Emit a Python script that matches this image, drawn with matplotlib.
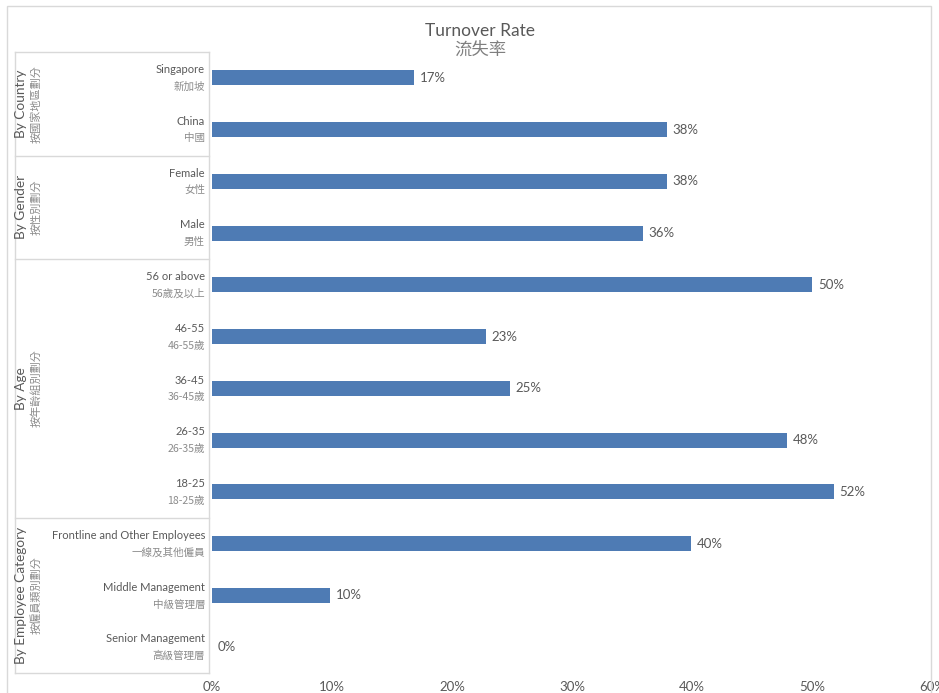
import matplotlib.pyplot as plt
import matplotlib.transforms as mtransforms
from matplotlib.patches import Rectangle
from matplotlib.lines import Line2D
import numpy as np

# data
labels_en = ['Singapore', 'China', 'Female', 'Male', '56 or above', '46-55', '36-45',
             '26-35', '18-25', 'Frontline and Other Employees', 'Middle Management',
             'Senior Management']
labels_zh = ['新加坡', '中國', '女性', '男性', '56歲及以上', '46-55歲', '36-45歲',
             '26-35歲', '18-25歲', '一線及其他僱員', '中級管理層', '高級管理層']
rates = [0.168, 0.379, 0.379, 0.359, 0.50, 0.228, 0.248, 0.479, 0.518, 0.399, 0.098, 0.0]
value_text = ['17%', '38%', '38%', '36%', '50%', '23%', '25%', '48%', '52%', '40%', '10%', '0%']
groups_en = ['By Country', 'By Gender', 'By Age', 'By Employee Category']
groups_zh = ['按國家地區劃分', '按性別劃分', '按年齡組別劃分', '按僱員類別劃分']
group_sizes = [2, 2, 5, 3]

FONTS = ['Lato', 'Noto Sans CJK TC', 'DejaVu Sans']
ZH = ['Noto Sans CJK TC', 'DejaVu Sans']
plt.rcParams['font.family'] = FONTS
TXT = '#595959'
ZTXT = '#8c8c8c'
LINE = '#d9d9d9'
BAR = '#4e7bb4'

W, H = 939, 693
fig = plt.figure(figsize=(W / 100, H / 100), dpi=100)
ax = fig.add_axes([212 / W, (H - 673) / H, (932 - 212) / W, (673 - 52) / H])

y = np.arange(len(rates))
ax.barh(y, rates, height=0.29, color=BAR)
ax.set_ylim(len(rates) - 0.5, -0.5)
ax.set_xlim(0, 0.6)
ax.set_xticks(np.arange(0, 0.61, 0.1))
ax.set_xticklabels(['%d%%' % round(v * 100) for v in np.arange(0, 0.61, 0.1)])
ax.tick_params(axis='x', length=0, pad=6, labelsize=9.5, labelcolor=TXT)
ax.set_yticks([])
for s in ax.spines.values():
    s.set_visible(False)

# value labels
off = mtransforms.offset_copy(ax.transData, fig=fig, x=6, y=0, units='dots')
for yi, r, t in zip(y, rates, value_text):
    ax.text(r, yi, t, transform=off, ha='left', va='center', fontsize=9.5, color=TXT)

# category labels
ytr = ax.get_yaxis_transform()
for yi, e, z in zip(y, labels_en, labels_zh):
    ax.text(-7 / 720, yi - 0.16, e, transform=ytr, ha='right', va='center',
            fontsize=8, color=TXT, clip_on=False)
    ax.text(-7 / 720, yi + 0.17, z, transform=ytr, ha='right', va='center',
            fontsize=7.6, color=ZTXT, family=ZH, clip_on=False)

# group boxes
btr = mtransforms.blended_transform_factory(fig.transFigure, ax.transData)
bounds = np.concatenate([[0], np.cumsum(group_sizes)]) - 0.5
x0, x1 = 15 / W, 209 / W
for b in bounds:
    fig.add_artist(Line2D([x0, x1], [b, b], transform=btr, color=LINE, lw=1))
fig.add_artist(Line2D([x0, x0], [bounds[0], bounds[-1]], transform=btr, color=LINE, lw=1))
fig.add_artist(Line2D([x1, x1], [bounds[0], bounds[-1]], transform=btr, color=LINE, lw=1))
for i in range(len(group_sizes)):
    mid = (bounds[i] + bounds[i + 1]) / 2
    fig.text(21 / W, mid, groups_en[i], transform=btr, rotation=90, ha='center', va='center',
             fontsize=9.8, color=TXT)
    fig.text(36 / W, mid, groups_zh[i], transform=btr, rotation=90, ha='center', va='center',
             fontsize=8, color=ZTXT, family=ZH)

# chart border
fig.add_artist(Rectangle((7 / W, -0.05), (931 - 7) / W, (H - 6) / H + 0.05,
                         transform=fig.transFigure, fill=False, edgecolor=LINE, lw=1))

# title
fig.text(480 / W, 1 - 31 / H, 'Turnover Rate', ha='center', va='center', fontsize=12.5, color=TXT)
fig.text(480 / W, 1 - 50 / H, '流失率', ha='center', va='center', fontsize=12.5,
         color='#7f7f7f', family=ZH)

fig.savefig('out.png', dpi=100)
